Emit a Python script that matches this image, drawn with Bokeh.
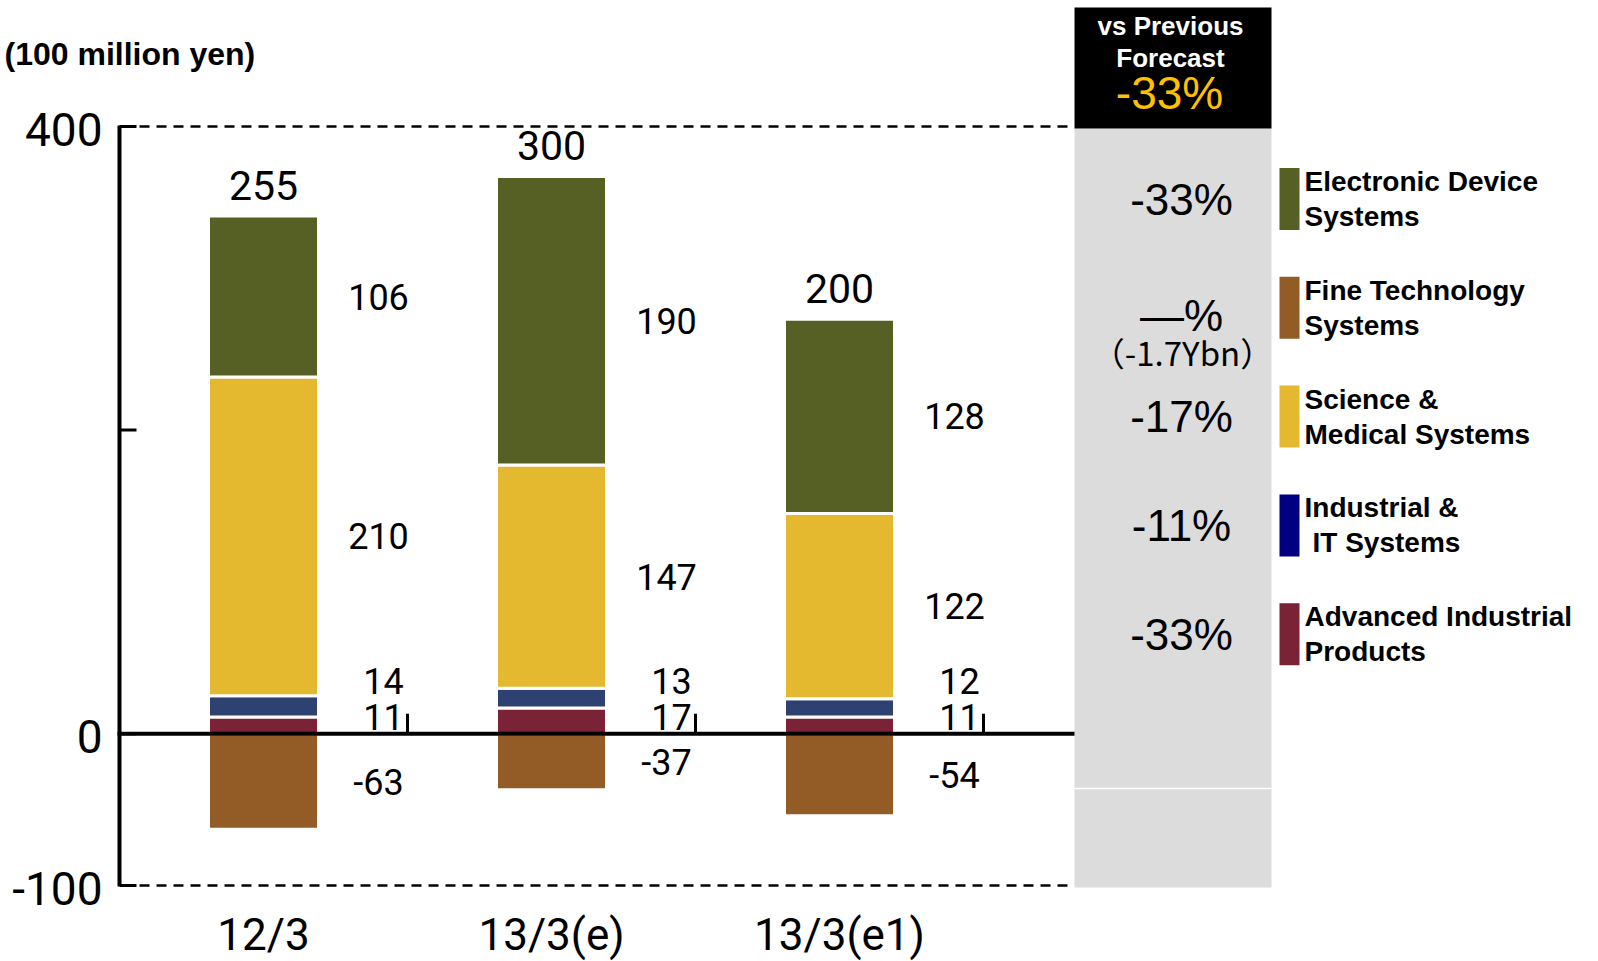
import numpy as np
from bokeh.plotting import figure
from bokeh.models import Range1d
from bokeh.core.properties import value
from bokeh.embed import file_html
from bokeh.resources import INLINE

# ---------------- data ----------------
categories = ["12/3", "13/3(e)", "13/3(e1)"]
totals = [255, 300, 200]
adv_industrial = [11, 17, 11]          # Advanced Industrial Products
industrial_it = [14, 13, 12]           # Industrial & IT Systems
science_medical = [210, 147, 122]      # Science & Medical Systems
electronic_device = [106, 190, 128]    # Electronic Device Systems
fine_technology = [-63, -37, -54]      # Fine Technology Systems

legend_names = ["Electronic Device\nSystems", "Fine Technology\nSystems",
                "Science &\nMedical Systems", "Industrial &\n IT Systems",
                "Advanced Industrial\nProducts"]
vs_previous = ["-33%", "\u2014%", "-17%", "-11%", "-33%"]
fine_note = "\uff08-1.7Ybn\uff09"
header_lines = ["vs Previous", "Forecast"]
header_change = "-33%"
y_ticks = [-100, 0, 200, 400]
y_tick_labels = ["-100", "0", "", "400"]
y_title = "(100 million yen)"

# ---------------- styles ----------------
C_ELEC = "#566024"
C_FINE = "#935B25"
C_SCI = "#E5B92F"
C_IT_BAR = "#2E4272"
C_IT_LEG = "#000080"
C_ADV = "#7A2236"
legend_colors = [C_ELEC, C_FINE, C_SCI, C_IT_LEG, C_ADV]
NUM = "Roboto"
SANS = "Liberation Sans"

W, H = 1598, 961
AXX = 119           # y-axis spine position in px
PXX = 288.0         # px per category
PY400, PYM100 = 126.0, 885.0
PXY = (PYM100 - PY400) / 500.0


def dx(px):
    return -0.5 + (px - AXX) / PXX


def dy(py):
    return 400 - (py - PY400) / PXY


p = figure(width=W, height=H, output_backend="svg", toolbar_location=None,
           x_range=Range1d(dx(0), dx(W)), y_range=Range1d(dy(H), dy(0)),
           min_border_left=0, min_border_right=0, min_border_top=0, min_border_bottom=0,
           x_axis_location=None, y_axis_location=None)
p.outline_line_color = None
p.grid.visible = False
p.background_fill_color = "white"
p.border_fill_color = "white"

xs = np.arange(len(categories), dtype=float)

# right-hand comparison panel
p.quad(left=dx(1074), right=dx(1271), top=dy(128), bottom=dy(887),
       fill_color="#DCDCDC", line_color=None)
p.quad(left=dx(1074), right=dx(1271), top=dy(7), bottom=dy(128),
       fill_color="black", line_color=None)
p.segment(x0=dx(1074), x1=dx(1271), y0=dy(788), y1=dy(788), line_color="white", line_width=1.5)

# dashed frame lines
for yv in (400, -100):
    p.segment(x0=dx(122), x1=dx(1074), y0=yv, y1=yv, line_color="black",
              line_width=2.5, line_dash="10 7")

# stacked bars
adv = np.array(adv_industrial, float)
it = np.array(industrial_it, float)
sci = np.array(science_medical, float)
ele = np.array(electronic_device, float)
fin = np.array(fine_technology, float)
b1 = adv
b2 = b1 + it
b3 = b2 + sci
b4 = b3 + ele
BW = 110 / PXX
bar_kw = dict(width=BW, line_color="white", line_width=3)
p.vbar(x=xs, bottom=0, top=fin, fill_color=C_FINE, **bar_kw)
p.vbar(x=xs, bottom=0, top=b1, fill_color=C_ADV, **bar_kw)
p.vbar(x=xs, bottom=b1, top=b2, fill_color=C_IT_BAR, **bar_kw)
p.vbar(x=xs, bottom=b2, top=b3, fill_color=C_SCI, **bar_kw)
p.vbar(x=xs, bottom=b3, top=b4, fill_color=C_ELEC, **bar_kw)

# y axis: spine, inward ticks, tick labels
p.segment(x0=dx(AXX), x1=dx(AXX), y0=-100 - 1 / PXY, y1=400 + 1 / PXY,
          line_color="black", line_width=4)
p.segment(x0=[dx(AXX)] * 4, x1=[dx(AXX + 17)] * 4, y0=y_ticks, y1=y_ticks,
          line_color="black", line_width=3)
p.text(x=[dx(102)] * 4, y=y_ticks, text=y_tick_labels, text_font=value(NUM),
       text_font_size="46px", text_align="right", text_baseline="middle",
       y_offset=3, text_color="black")

# zero line and category separators
p.segment(x0=dx(AXX - 2), x1=dx(1074), y0=0, y1=0, line_color="black", line_width=4)
p.segment(x0=xs + 0.5, x1=xs + 0.5, y0=0, y1=20 / PXY, line_color="black", line_width=3)

# value labels
lab_kw = dict(text_font=value(NUM), text_font_size="36px", text_align="center",
              text_baseline="middle", text_color="black", x_offset=115)
p.text(x=xs, y=(b3 + b4) / 2, text=[str(v) for v in electronic_device], **lab_kw)
p.text(x=xs, y=(b2 + b3) / 2, text=[str(v) for v in science_medical], **lab_kw)
p.text(x=xs, y=fin / 2, text=[str(v) for v in fine_technology], **lab_kw)
p.text(x=xs, y=[0] * 3, text=[str(v) for v in industrial_it], y_offset=-53,
       **{**lab_kw, "x_offset": 120})
p.text(x=xs, y=[0] * 3, text=[str(v) for v in adv_industrial], y_offset=-17,
       **{**lab_kw, "x_offset": 120})

# totals
p.text(x=xs, y=b4, text=[str(v) for v in totals], text_font=value(NUM),
       text_font_size="41px", text_align="center", text_baseline="middle",
       y_offset=-31, text_color="black")

# category labels
p.text(x=xs, y=[dy(934)] * 3, text=categories, text_font=value(NUM),
       text_font_size="44px", text_align="center", text_baseline="middle", text_color="black")

# unit title
p.text(x=[dx(4)], y=[dy(53)], text=[y_title], text_font=value(SANS),
       text_font_size="32px", text_font_style="bold", text_align="left",
       text_baseline="middle", text_color="black")

# header box text
p.text(x=[dx(1170)] * 2, y=[dy(25), dy(57)], text=header_lines, text_font=value(SANS),
       text_font_size="26px", text_font_style="bold", text_align="center",
       text_baseline="middle", text_color="white")
p.text(x=[dx(1169)], y=[dy(92)], text=[header_change], text_font=value(SANS),
       text_font_size="46px", text_align="center", text_baseline="middle", text_color="#FFC000")

# legend + panel percentages
centers = np.array([198.5 + i * 108.8 for i in range(len(legend_names))])
p.quad(left=[dx(1279)] * 5, right=[dx(1299)] * 5, top=[dy(c - 31) for c in centers],
       bottom=[dy(c + 31) for c in centers], fill_color=legend_colors, line_color=None)
line1 = [n.split("\n")[0] for n in legend_names]
line2 = [n.split("\n")[1] for n in legend_names]
indent2 = [8 if s.startswith(" ") else 0 for s in line2]
leg_kw = dict(text_font=value(SANS), text_font_size="28px", text_font_style="bold",
              text_align="left", text_baseline="middle", text_color="black")
p.text(x=[dx(1304)] * 5, y=[dy(c - 17.5) for c in centers], text=line1, **leg_kw)
p.text(x=[dx(1304)] * 5, y=[dy(c + 17.5) for c in centers],
       text=[s.strip() for s in line2], x_offset=indent2, **leg_kw)

pct_y = [dy(c + (8 if i == 1 else 0)) for i, c in enumerate(centers)]
p.text(x=[dx(1181)] * 5, y=pct_y, text=vs_previous, text_font=value(SANS),
       text_font_size="44px", text_align="center", text_baseline="middle", text_color="black")
p.text(x=[dx(1182)], y=[dy(centers[1] + 44)], text=[fine_note],
       text_font=value("Noto Sans CJK JP"), text_font_size="33px", text_align="center",
       text_baseline="middle", text_color="black")

open("out.html", "w").write(file_html(p, INLINE))
